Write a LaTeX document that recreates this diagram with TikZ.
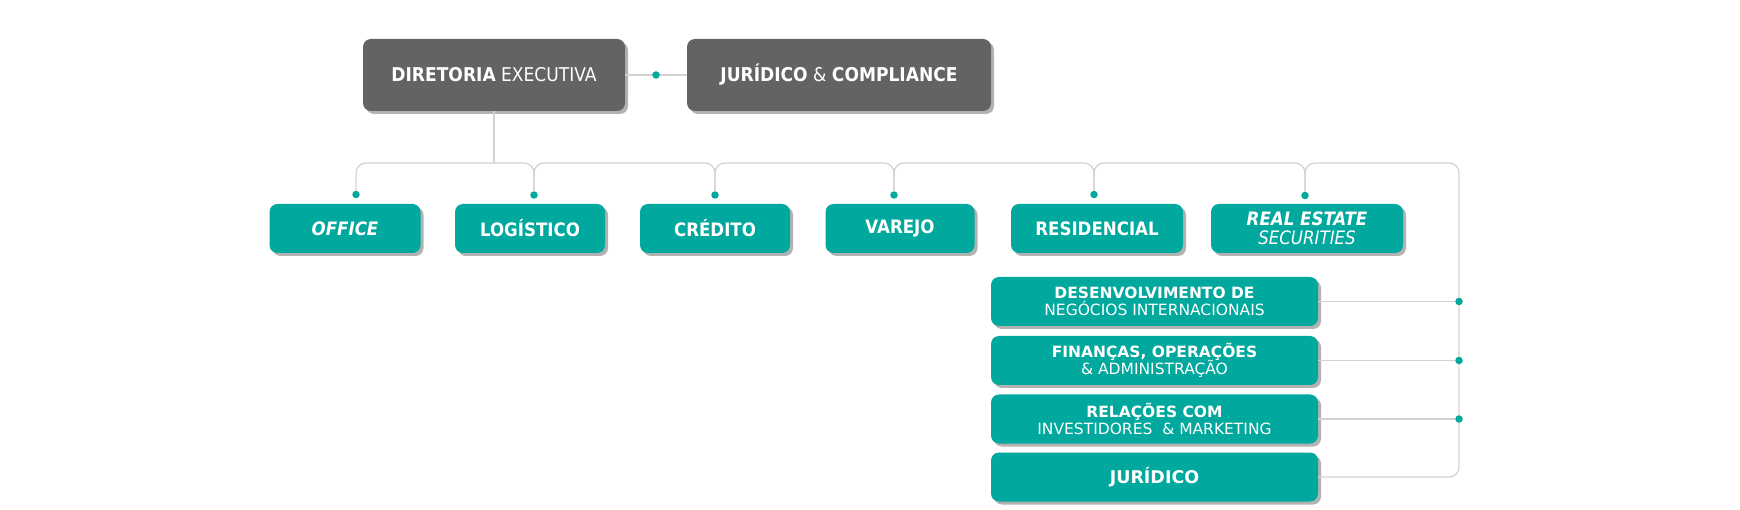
\documentclass[tikz,border=0pt]{standalone}
\usepackage{fontspec}
\setmainfont{DejaVu Sans}
\newfontfamily\condfont{DejaVu Sans Condensed}
\usetikzlibrary{shadows}

\definecolor{boxgray}{RGB}{99,99,99}
\definecolor{boxteal}{RGB}{0,168,157}
\definecolor{linegray}{RGB}{210,210,210}

\tikzset{
  boxshadow/.style={drop shadow={shadow xshift=3pt, shadow yshift=-3pt, opacity=0.5, fill=black!60}},
  darkbox/.style={fill=boxgray, rounded corners=8pt, inner sep=0pt, minimum height=72pt,
    text=white, font=\condfont\fontsize{19}{22}\selectfont, boxshadow},
  unitbox/.style={fill=boxteal, rounded corners=8pt, inner sep=0pt, minimum height=49pt,
    text=white, align=center, font=\condfont\fontsize{18.5}{19}\selectfont, boxshadow},
  areabox/.style={fill=boxteal, rounded corners=8pt, inner sep=0pt, minimum width=327pt, minimum height=49pt,
    text=white, align=center, font=\fontsize{15.5}{17.5}\selectfont, boxshadow},
  link/.style={draw=linegray, line width=1.2pt},
  dot/.style={circle, fill=boxteal, inner sep=0pt, minimum size=7.5pt},
}

\begin{document}
\begin{tikzpicture}[x=1pt,y=-1pt]
    \useasboundingbox (0,0) rectangle (1740,510);

    % Top boxes
    \node[darkbox, minimum width=262pt] (dir) at (494,75) {\textbf{DIRETORIA} EXECUTIVA};
    \node[darkbox, minimum width=304pt] (jc) at (839,75) {\textbf{JURÍDICO} \& \textbf{COMPLIANCE}};
    \draw[link] (dir.east) -- (jc.west) node[dot, midway] (djc) {};

    % Business units
    \node[unitbox, minimum width=151pt] (office) at (345,228.5) {\textbf{\textit{OFFICE}}};
    \node[unitbox, minimum width=150pt] (logis) at (530,228.5) {\textbf{LOGÍSTICO}};
    \node[unitbox, minimum width=150pt] (cred) at (715,228.5) {\textbf{CRÉDITO}};
    \node[unitbox, minimum width=149pt] (varejo) at (900,228.5) {\textbf{VAREJO}};
    \node[unitbox, minimum width=172pt] (resid) at (1097,228.5) {\textbf{RESIDENCIAL}};
    \node[unitbox, minimum width=192pt] (restate) at (1307,228.5) {\textbf{\textit{REAL ESTATE}}\\\textit{SECURITIES}};

    % Support areas
    \node[areabox] (dni) at (1154.5,301.5) {\textbf{DESENVOLVIMENTO DE}\\NEGÓCIOS INTERNACIONAIS};
    \node[areabox] (fin) at (1154.5,360.5) {\textbf{FINANÇAS, OPERAÇÕES}\\\& ADMINISTRAÇÃO};
    \node[areabox] (rim) at (1154.5,419) {\textbf{RELAÇÕES COM}\\INVESTIDORES \ \& MARKETING};
    \node[areabox, font=\fontsize{17.5}{20}\selectfont] (jur) at (1154.5,477) {\textbf{JURÍDICO}};

    % Dots above the units
    \node[dot] (pO) at (356,194.5) {};
    \node[dot] (pL) at (534,195) {};
    \node[dot] (pC) at (715,195) {};
    \node[dot] (pV) at (894,195) {};
    \node[dot] (pR) at (1094,194.5) {};
    \node[dot] (pS) at (1305,195.5) {};

    % Bar and corner points
    \coordinate (bar) at (0,163);
    \coordinate (rc) at (1459,163);

    % Stem from the board down to the bar
    \draw[link] (dir.south) -- (dir.south |- bar);

    % Bar with rounded joints down to each unit
    \draw[link, rounded corners=10pt] (pO) -- (pO |- bar) -- (pL |- bar) -- (pL);
    \draw[link, rounded corners=10pt] (pL) -- (pL |- bar) -- (pC |- bar) -- (pC);
    \draw[link, rounded corners=10pt] (pC) -- (pC |- bar) -- (pV |- bar) -- (pV);
    \draw[link, rounded corners=10pt] (pV) -- (pV |- bar) -- (pR |- bar) -- (pR);
    \draw[link, rounded corners=10pt] (pR) -- (pR |- bar) -- (pS |- bar) -- (pS);
    \draw[link, rounded corners=10pt] (pS) -- (pS |- bar) -- (rc) -- (rc |- jur.east) -- (jur.east);

    % Side links to the support areas
    \node[dot] (sD) at (rc |- dni.east) {};
    \node[dot] (sF) at (rc |- fin.east) {};
    \node[dot] (sR) at (rc |- rim.east) {};
    \draw[link] (dni.east) -- (sD);
    \draw[link] (fin.east) -- (sF);
    \draw[link] (rim.east) -- (sR);

\end{tikzpicture}
\end{document}
